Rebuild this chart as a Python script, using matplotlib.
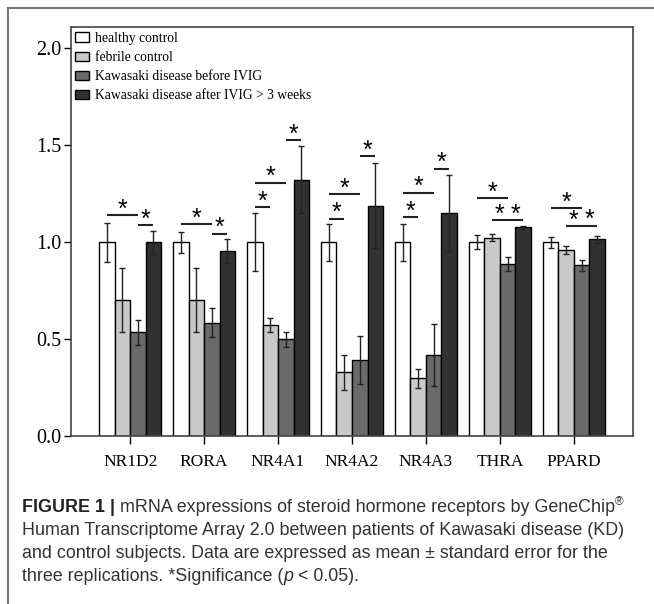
import numpy as np
import matplotlib.pyplot as plt
from matplotlib.patches import Patch
from matplotlib.lines import Line2D

plt.rcParams['font.family'] = ['Liberation Serif', 'DejaVu Serif']

# data
genes = ['NR1D2', 'RORA', 'NR4A1', 'NR4A2', 'NR4A3', 'THRA', 'PPARD']
groups = ['healthy control', 'febrile control',
          'Kawasaki disease before IVIG', 'Kawasaki disease after IVIG > 3 weeks']

healthy = [1.0, 1.0, 1.0, 1.0, 1.0, 1.0, 1.0]
healthy_err = [0.10, 0.055, 0.15, 0.095, 0.095, 0.036, 0.028]
febrile = [0.70, 0.70, 0.572, 0.328, 0.297, 1.024, 0.959]
febrile_err = [0.165, 0.165, 0.035, 0.09, 0.05, 0.02, 0.022]
kd_before = [0.536, 0.584, 0.498, 0.393, 0.418, 0.888, 0.88]
kd_before_err = [0.065, 0.075, 0.037, 0.125, 0.16, 0.038, 0.027]
kd_after = [1.0, 0.955, 1.323, 1.189, 1.149, 1.076, 1.014]
kd_after_err = [0.06, 0.06, 0.175, 0.22, 0.2, 0.006, 0.02]

# significance bars: (gene, from bar, to bar, height)
sig = [(0, 0, 2, 1.14), (0, 2, 3, 1.088),
       (1, 0, 2, 1.093), (1, 2, 3, 1.043),
       (2, 0, 1, 1.18), (2, 0, 2, 1.307), (2, 2, 3, 1.526),
       (3, 0, 1, 1.12), (3, 0, 2, 1.246), (3, 2, 3, 1.443),
       (4, 0, 1, 1.129), (4, 0, 2, 1.255), (4, 2, 3, 1.378),
       (5, 0, 2, 1.227), (5, 1, 2, 1.112), (5, 2, 3, 1.112),
       (6, 0, 2, 1.175), (6, 1, 2, 1.081), (6, 2, 3, 1.084)]

means = [healthy, febrile, kd_before, kd_after]
errs = [healthy_err, febrile_err, kd_before_err, kd_after_err]
colors = ['white', '#c9c9c9', '#6a6a6a', '#323232']

W, H = 654, 604
fig = plt.figure(figsize=(W / 100, H / 100), dpi=100)
ax = fig.add_axes([71 / W, 1 - 436 / H, (633 - 71) / W, (436 - 27) / H])

x = np.arange(len(genes))
w = 0.21
offs = (np.arange(4) - 1.5) * w
for i in range(4):
    ax.bar(x + offs[i], means[i], w, yerr=errs[i], color=colors[i],
           edgecolor='black', linewidth=1,
           error_kw=dict(ecolor='#222222', elinewidth=1, capsize=2, capthick=1))

for g, a, b, y in sig:
    x0, x1 = g + offs[a], g + offs[b]
    ax.plot([x0, x1], [y, y], color='#222222', lw=1.5, solid_capstyle='butt')
    ax.annotate('*', ((x0 + x1) / 2, y), xytext=(0, 4), textcoords='offset points',
                ha='center', va='center', fontsize=18, family='Liberation Sans')

ax.set_xlim(-0.8, 6.8)
ax.set_ylim(0, 2.11)
ax.set_xticks(x)
ax.set_xticklabels(genes, fontsize=12.5)
ax.set_yticks([0, 0.5, 1.0, 1.5, 2.0])
ax.set_yticklabels(['0.0', '0.5', '1.0', '1.5', '2.0'], fontsize=14.5)
ax.tick_params(axis='x', length=6, width=1, pad=7)
ax.tick_params(axis='y', length=5, width=1, pad=2)
for s in ax.spines.values():
    s.set_color('#444444')
    s.set_linewidth(1.2)

handles = [Patch(facecolor=c, edgecolor='black', linewidth=1) for c in colors]
ax.legend(handles, groups, loc='upper left', bbox_to_anchor=(0.008, 0.988),
          frameon=False, fontsize=9.8, handlelength=0.97, handleheight=0.7,
          handletextpad=0.45, labelspacing=0.45, borderpad=0, borderaxespad=0)

# outer frame (open on right and bottom)
fig.add_artist(Line2D([8 / W, 1], [1 - 8 / H, 1 - 8 / H], color='#777777', lw=1.5))
fig.add_artist(Line2D([8 / W, 8 / W], [0, 1 - 8 / H], color='#777777', lw=1.5))

# caption
fig.canvas.draw()
renderer = fig.canvas.get_renderer()
cap = dict(family='Liberation Sans', fontsize=12.85, color='#333333')


def chain(x_px, y_px, parts):
    for s, kw, dy in parts:
        t = fig.text(x_px / W, 1 - (y_px - dy) / H, s, ha='left', va='baseline', **kw)
        x_px = t.get_window_extent(renderer).x1


chain(22, 512, [('FIGURE 1 | ', dict(cap, weight='bold', color='#222222'), 0),
                ('mRNA expressions of steroid hormone receptors by GeneChip', cap, 0),
                ('®', dict(cap, fontsize=8.5), 7)])
chain(22, 535, [('Human Transcriptome Array 2.0 between patients of Kawasaki disease (KD)', cap, 0)])
chain(22, 558, [('and control subjects. Data are expressed as mean ± standard error for the', cap, 0)])
chain(22, 581, [('three replications. *Significance (', cap, 0),
                ('p', dict(cap, style='italic'), 0),
                (' < 0.05).', cap, 0)])

fig.savefig('out.png', dpi=100)
